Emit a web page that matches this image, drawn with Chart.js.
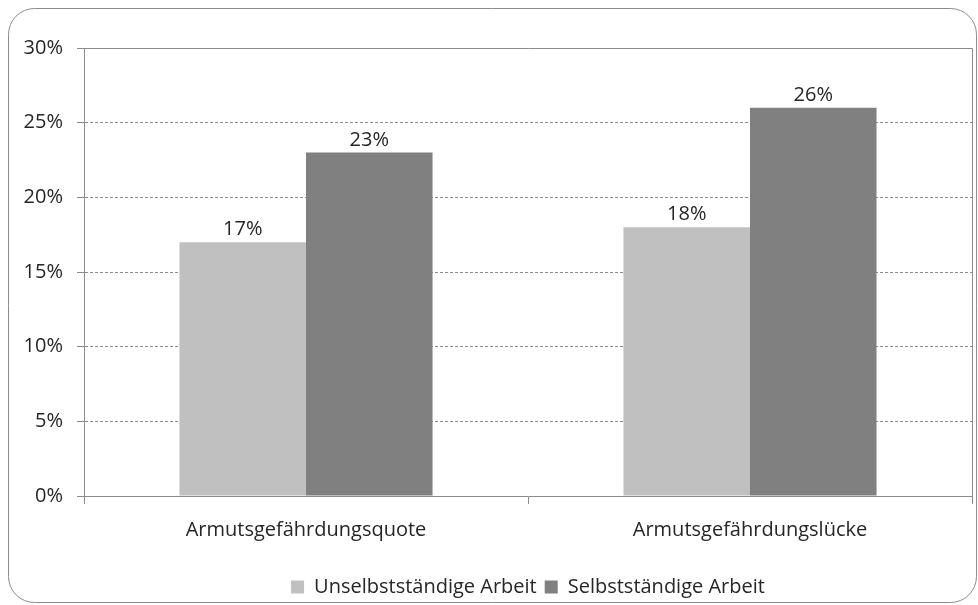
<!DOCTYPE html>
<html>
<head>
<meta charset="utf-8">
<script src="https://cdn.jsdelivr.net/npm/chart.js@4"></script>
<style>
  html, body { margin: 0; padding: 0; background: #fff; }
  #wrap { width: 978px; height: 605px; }
</style>
</head>
<body>
<div id="wrap"><canvas id="myChart" width="978" height="605"></canvas></div>
<script>
// categories and series
const categories = ['Armutsgefährdungsquote', 'Armutsgefährdungslücke'];
const unselbststaendig = [17, 18];
const selbststaendig = [23, 26];
const seriesNames = ['Unselbstständige Arbeit', 'Selbstständige Arbeit'];
const yTicks = [0, 5, 10, 15, 20, 25, 30];

const FONT = '"Open Sans", sans-serif';
const FS = 20;
const TEXT = '#262626';

// rounded outer frame + top/right border of the plot area
const framePlugin = {
    id: 'frame',
    afterLayout(chart) {
        // legend sits centred under the plot area, a bit lower
        const l = chart.legend, a = chart.chartArea;
        l.left = a.left;
        l.right = a.right;
        l.top += 4;
        l.bottom += 4;
    },
    beforeDraw(chart) {
        const ctx = chart.ctx;
        ctx.save();
        ctx.fillStyle = '#fff';
        ctx.fillRect(0, 0, chart.width, chart.height);
        ctx.strokeStyle = '#8c8c8c';
        ctx.lineWidth = 1;
        ctx.beginPath();
        ctx.roundRect(8.5, 8.5, 968, 594, 26);
        ctx.stroke();
        ctx.restore();
    },
    afterDraw(chart) {
        const a = chart.chartArea;
        const ctx = chart.ctx;
        ctx.save();
        ctx.strokeStyle = '#8c8c8c';
        ctx.lineWidth = 1;
        ctx.beginPath();
        ctx.moveTo(a.left, Math.round(a.top) + 0.5);
        ctx.lineTo(Math.round(a.right) + 0.5, Math.round(a.top) + 0.5);
        ctx.lineTo(Math.round(a.right) + 0.5, a.bottom);
        ctx.stroke();
        ctx.restore();
    }
};

// value labels above the bars
const valueLabels = {
    id: 'valueLabels',
    afterDatasetsDraw(chart) {
        const ctx = chart.ctx;
        ctx.save();
        ctx.font = FS + 'px ' + FONT;
        ctx.fillStyle = TEXT;
        ctx.textAlign = 'center';
        ctx.textBaseline = 'alphabetic';
        chart.data.datasets.forEach((ds, i) => {
            chart.getDatasetMeta(i).data.forEach((bar, j) => {
                ctx.fillText(ds.data[j] + '%', bar.x, bar.y - 7);
            });
        });
        ctx.restore();
    }
};

const ctx = document.getElementById('myChart');
const myChart = new Chart(ctx, {
    type: 'bar',
    data: {
        labels: categories,
        datasets: [{
            label: seriesNames[0],
            data: unselbststaendig,
            backgroundColor: '#c0c0c0',
            categoryPercentage: 0.57,
            barPercentage: 1.0
        }, {
            label: seriesNames[1],
            data: selbststaendig,
            backgroundColor: '#808080',
            categoryPercentage: 0.57,
            barPercentage: 1.0
        }]
    },
    options: {
        responsive: false,
        animation: false,
        layout: {
            padding: { top: 48, right: 6, left: 0, bottom: 2 }
        },
        scales: {
            x: {
                offset: true,
                grid: {
                    offset: true,
                    drawOnChartArea: false,
                    tickLength: 8,
                    tickColor: '#8c8c8c'
                },
                border: { color: '#8c8c8c' },
                ticks: {
                    color: TEXT,
                    font: { family: FONT, size: FS },
                    padding: 14
                },
                afterFit(scale) { scale.height = 69; }
            },
            y: {
                min: 0,
                max: 30,
                afterBuildTicks(scale) {
                    scale.ticks = yTicks.map(v => ({ value: v }));
                },
                grid: {
                    color: '#8c8c8c',
                    tickLength: 7,
                    tickColor: '#8c8c8c'
                },
                border: { color: '#8c8c8c', dash: [3, 2] },
                ticks: {
                    color: TEXT,
                    font: { family: FONT, size: FS },
                    padding: 14,
                    callback: v => v + '%'
                },
                afterFit(scale) { scale.width = 84; }
            }
        },
        plugins: {
            legend: {
                position: 'bottom',
                labels: {
                    color: TEXT,
                    font: { family: FONT, size: FS },
                    boxWidth: 13,
                    boxHeight: 13,
                    padding: 8
                }
            },
            tooltip: { enabled: false }
        }
    },
    plugins: [framePlugin, valueLabels]
});
</script>
</body>
</html>
